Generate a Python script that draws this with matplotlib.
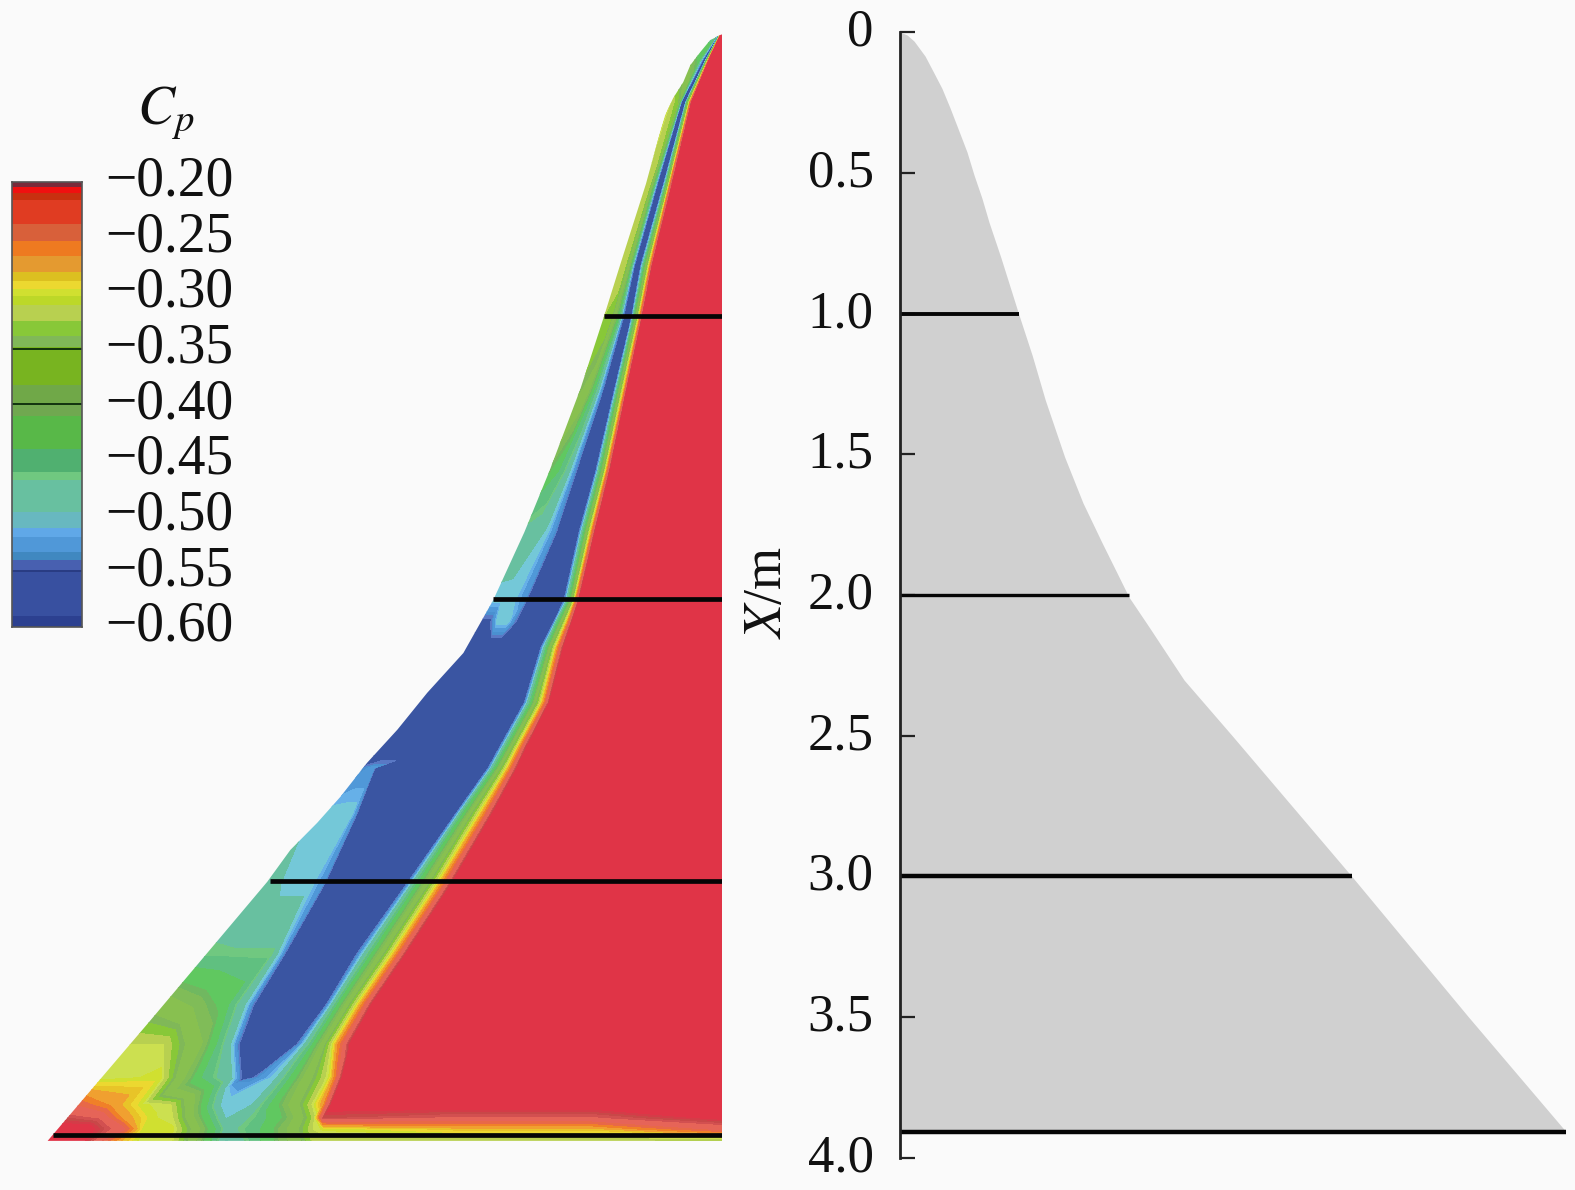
import numpy as np
import matplotlib
matplotlib.use("Agg")
import matplotlib.pyplot as plt
from matplotlib.colors import ListedColormap, BoundaryNorm
from matplotlib.patches import Polygon
from matplotlib.transforms import ScaledTranslation

plt.rcParams['font.family'] = ['Liberation Serif', 'DejaVu Serif']
plt.rcParams['mathtext.fontset'] = 'stix'

W, H = 1568, 1185
BG = '#fafafa'
INK = '#111111'

# colour legend bands, low to high
cp_edges = [-0.60, -0.59, -0.568, -0.549, -0.54, -0.533, -0.519, -0.511, -0.497, -0.468,
            -0.4606, -0.44, -0.411, -0.4008, -0.3826, -0.349, -0.339, -0.325, -0.3105, -0.303,
            -0.296, -0.289, -0.281, -0.267, -0.253, -0.238, -0.2166, -0.21, -0.205, -0.20]
cp_colors = ['#2c4090', '#3850a0', '#3850a0', '#4860b0', '#4088c0', '#5098d8', '#60a8e8', '#68b8c0',
             '#68c0a0', '#70c880', '#50b070', '#58b848', '#70a850', '#70a848', '#78b420', '#80b858',
             '#88c838', '#b8d050', '#bcd828', '#d0e030', '#ecd830', '#dcc020', '#e49a30', '#ee7a20',
             '#d8603a', '#e03c22', '#c83010', '#f01010', '#7a2a3a']
# the map itself looks a bit lighter than its legend
field_colors = ['#3a55a2', '#3a55a2', '#3a55a2', '#5a78c4', '#4a90d0', '#5098d8', '#66b0e8', '#74c8d8',
                '#68c0a0', '#70c880', '#60c080', '#60c860', '#70b860', '#80bc58', '#88c050', '#80b858',
                '#88c838', '#b8d050', '#cce050', '#d0e030', '#ecd830', '#e8c428', '#f0a030', '#f08028',
                '#e86848', '#e66458', '#d25050', '#c84848', '#d43c48']
cp_ticks = [-0.20, -0.25, -0.30, -0.35, -0.40, -0.45, -0.50, -0.55, -0.60]

# stations along the body (m)
stations = [-0.02, 0.007, 0.093, 0.242, 0.530, 0.822, 1.004, 1.256, 1.548, 1.765, 2.007, 2.085, 2.174,
            2.370, 2.530, 2.601, 2.762, 3.007, 3.260, 3.438, 3.580, 3.698, 3.794, 3.840, 3.879, 3.922]

# spanwise distance of the read points from the centre line (m), leading edge first
span = [
    [.025, .021, .020, .018, .016, .014, .012, .011, .009, .007, .005],
    [.025, .021, .020, .018, .016, .014, .012, .011, .009, .007, .005],
    [.096, .085, .078, .071, .068, .060, .057, .053, .050, .046, .039],
    [.164, .157, .149, .146, .142, .132, .125, .121, .114, .107, .096],
    [.270, .256, .242, .231, .224, .210, .199, .192, .185, .174, .160],
    [.363, .345, .327, .313, .306, .292, .278, .267, .256, .246, .231],
    [.420, .395, .370, .352, .342, .324, .313, .302, .292, .281, .267],
    [.502, .477, .452, .423, .413, .384, .370, .359, .345, .335, .317],
    [.612, .580, .548, .520, .505, .452, .434, .420, .409, .395, .377],
    [.701, .665, .626, .591, .577, .512, .491, .477, .463, .448, .431],
    [.811, .779, .744, .701, .680, .566, .544, .530, .520, .505, .488],
    [.851, .826, .797, .762, .726, .601, .584, .566, .548, .530, .512],
    [.893, .868, .833, .797, .762, .648, .623, .605, .584, .559, .541],
    [1.082, 1.028, .957, .886, .815, .708, .680, .658, .633, .609, .591],
    [1.206, 1.135, 1.028, .957, .886, .797, .769, .744, .719, .690, .673],
    [1.263, 1.249, 1.235, 1.228, 1.214, .836, .808, .783, .754, .722, .705],
    [1.395, 1.349, 1.313, 1.299, 1.285, .950, .922, .886, .847, .808, .790],
    [1.609, 1.527, 1.456, 1.413, 1.395, 1.125, 1.082, 1.036, .993, .950, .929],
    [1.847, 1.740, 1.598, 1.562, 1.537, 1.310, 1.249, 1.199, 1.157, 1.114, 1.093],
    [1.972, 1.865, 1.769, 1.687, 1.641, 1.413, 1.367, 1.320, 1.278, 1.235, 1.214],
    [2.110, 1.979, 1.847, 1.740, 1.694, 1.523, 1.456, 1.406, 1.363, 1.313, 1.292],
    [2.206, 1.989, 1.847, 1.733, 1.687, 1.651, 1.580, 1.473, 1.391, 1.367, 1.342],
    [2.256, 2.167, 2.060, 1.954, 1.883, 1.776, 1.669, 1.580, 1.473, 1.413, 1.381],
    [2.299, 2.203, 2.125, 2.025, 1.947, 1.883, 1.758, 1.651, 1.537, 1.448, 1.413],
    [2.345, 2.256, 2.125, 2.053, 1.947, 1.883, 1.758, 1.651, 1.537, 1.448, 1.413],
    [2.388, 2.256, 2.132, 2.053, 1.947, 1.883, 1.758, 1.651, 1.537, 1.448, 1.413],
]

# Cp at those points, then three more towards the centre line
cp = [
    [-.45, -.45, -.50, -.55, -.58, -.58, -.50, -.35, -.27, -.19, -.19, -.19, -.19, -.19],
    [-.45, -.45, -.50, -.55, -.58, -.58, -.50, -.35, -.27, -.19, -.19, -.19, -.19, -.19],
    [-.36, -.42, -.48, -.54, -.58, -.58, -.45, -.35, -.27, -.19, -.19, -.19, -.19, -.19],
    [-.30, -.34, -.46, -.54, -.58, -.58, -.45, -.35, -.27, -.19, -.19, -.19, -.19, -.19],
    [-.30, -.32, -.42, -.54, -.58, -.58, -.45, -.35, -.27, -.19, -.19, -.19, -.19, -.19],
    [-.30, -.32, -.40, -.54, -.58, -.58, -.45, -.35, -.27, -.19, -.19, -.19, -.19, -.19],
    [-.32, -.33, -.42, -.54, -.58, -.58, -.45, -.35, -.27, -.19, -.19, -.19, -.19, -.19],
    [-.33, -.36, -.44, -.54, -.58, -.58, -.45, -.35, -.27, -.19, -.19, -.19, -.19, -.19],
    [-.38, -.44, -.48, -.54, -.58, -.58, -.45, -.35, -.27, -.19, -.19, -.19, -.19, -.19],
    [-.47, -.48, -.50, -.54, -.58, -.58, -.45, -.35, -.27, -.19, -.19, -.19, -.19, -.19],
    [-.505, -.505, -.505, -.53, -.58, -.58, -.45, -.35, -.27, -.19, -.19, -.19, -.19, -.19],
    [-.56, -.56, -.505, -.505, -.56, -.58, -.45, -.35, -.27, -.19, -.19, -.19, -.19, -.19],
    [-.58, -.58, -.58, -.58, -.58, -.58, -.45, -.35, -.27, -.19, -.19, -.19, -.19, -.19],
    [-.58, -.58, -.58, -.58, -.58, -.58, -.45, -.35, -.27, -.19, -.19, -.19, -.19, -.19],
    [-.58, -.58, -.58, -.58, -.58, -.58, -.45, -.35, -.27, -.19, -.19, -.19, -.19, -.19],
    [-.55, -.53, -.53, -.56, -.58, -.58, -.45, -.35, -.27, -.19, -.19, -.19, -.19, -.19],
    [-.505, -.505, -.505, -.53, -.58, -.58, -.45, -.35, -.27, -.19, -.19, -.19, -.19, -.19],
    [-.48, -.505, -.505, -.53, -.58, -.58, -.45, -.35, -.27, -.19, -.19, -.19, -.19, -.19],
    [-.465, -.465, -.465, -.52, -.58, -.58, -.45, -.35, -.27, -.19, -.19, -.19, -.19, -.19],
    [-.36, -.39, -.42, -.50, -.58, -.58, -.45, -.35, -.27, -.19, -.19, -.19, -.19, -.19],
    [-.31, -.31, -.38, -.50, -.58, -.58, -.45, -.35, -.27, -.19, -.19, -.19, -.19, -.19],
    [-.31, -.30, -.44, -.50, -.575, -.54, -.50, -.37, -.30, -.25, -.19, -.19, -.19, -.19],
    [-.24, -.27, -.30, -.31, -.37, -.50, -.50, -.42, -.33, -.27, -.19, -.19, -.19, -.19],
    [-.21, -.22, -.27, -.30, -.31, -.37, -.50, -.46, -.40, -.32, -.21, -.22, -.22, -.195],
    [-.19, -.19, -.23, -.30, -.30, -.35, -.48, -.45, -.38, -.31, -.30, -.285, -.285, -.23],
    [-.19, -.20, -.28, -.31, -.31, -.36, -.50, -.45, -.38, -.32, -.32, -.32, -.32, -.33],
]

# outline of the pressure map
edge_x = [0, .004, .021, .064, .11, .17, .227, .287, .347, .53, .822, 1.004, 1.256, 1.548, 1.765, 2.005,
          2.193, 2.334, 2.465, 2.582, 2.703, 2.795, 2.891, 3.004, 3.5, 3.922]
edge_s = [0, .007, .0425, .078, .113, .138, .174, .202, .22, .27, .363, .42, .502, .612, .701, .811,
          .917, 1.045, 1.151, 1.258, 1.353, 1.435, 1.53, 1.612, 2.03, 2.39]

# black cuts on the pressure map
cut_stations = [1.0, 2.0, 3.0, 3.9]
cut_span = [0.42, 0.812, 1.603, 2.37]

# planform on the right
plan_x = [0, .01, .032, .085, .146, .20, .27, .34, .426, .508, .59, .675, .8, 1.0, 1.15, 1.307, 1.51, 1.673,
          1.815, 1.936, 2.007, 2.114, 2.302, 2.5, 3.0, 3.5, 3.907]
plan_y = [0, .025, .05, .089, .121, .149, .178, .205, .238, .263, .291, .316, .358, .421, .47, .516, .585, .65,
          .718, .778, .813, .885, 1.009, 1.18, 1.605, 2.02, 2.366]
plan_cuts = [1.0, 2.0, 3.0, 3.907]
plan_cut_y = [0.421, 0.813, 1.605, 2.366]
plan_ticks = [0, 0.5, 1.0, 1.5, 2.0, 2.5, 3.0, 3.5, 4.0]
plan_labels = ['0', '0.5', '1.0', '1.5', '2.0', '2.5', '3.0', '3.5', '4.0']


def box(x0, y0, x1, y1):
    # pixel box (top-left origin) to figure fractions
    return [x0 / W, 1 - y1 / H, (x1 - x0) / W, (y1 - y0) / H]


fig = plt.figure(figsize=(15.75, 11.9), dpi=100, facecolor=BG)

legend_cmap = ListedColormap(cp_colors)
field_cmap = ListedColormap(field_colors)
field_cmap.set_over('#e03447')
field_cmap.set_under(field_colors[0])
norm = BoundaryNorm(cp_edges, len(cp_colors))

# left: pressure map
ax = fig.add_axes(box(0, 34, 719, 1150))
ax.set_xlim(719 / 281, 0)
ax.set_ylim((1150 - 34) / 281, 0)
ax.axis('off')

span_arr = np.array(span)
inner = np.linspace(span_arr[:, -1], 0, 4).T[:, 1:]
S = np.hstack([span_arr, inner])
S[:, 0] += 0.03  # mesh runs past the outline, the clip below cuts it
X = np.repeat(np.array(stations)[:, None], S.shape[1], axis=1)
cs = ax.contourf(S, X, np.array(cp), levels=cp_edges, cmap=field_cmap, norm=norm, extend='both')
outline = Polygon(list(zip(edge_s, edge_x)) + [(0, edge_x[-1])], closed=True, transform=ax.transData)
cs.set_clip_path(outline)
for st, sp in zip(cut_stations, cut_span):
    ax.plot([0, sp], [st, st], color='#050505', lw=3.4, solid_capstyle='butt')

# colour legend
cax = fig.add_axes(box(12, 181, 82, 624))
cax.pcolormesh([0, 1], cp_edges, np.array(cp_edges[:-1])[:, None] + 1e-4, cmap=legend_cmap, norm=norm)
cax.set_ylim(-0.60, -0.20)
cax.set_xticks([])
cax.yaxis.tick_right()
cax.set_yticks(cp_ticks)
cax.set_yticklabels(['\u2212%.2f' % abs(v) for v in cp_ticks], fontsize=40, color=INK)
cax.tick_params(axis='y', length=0, pad=16.5)
up6 = ScaledTranslation(0, 6 / 100, fig.dpi_scale_trans)
for lab in cax.get_yticklabels():
    lab.set_transform(lab.get_transform() + up6)
for s in cax.spines.values():
    s.set_color('#555555')
    s.set_linewidth(1.2)
for v in [-0.35, -0.40]:
    cax.axhline(v, color='#0a2a0a', lw=1.3)
cax.axhline(-0.55, color='#283a80', lw=1.3)
fig.text(165 / W, 1 - 113 / H, r'$C_p$', fontsize=40, ha='center', va='center', color=INK)

# right: planform
rax = fig.add_axes(box(896, 32, 1565, 1153), facecolor='none')
rax.set_xlim(0, 669 / 280.25)
rax.set_ylim(4.0, 0)
rax.fill_betweenx(plan_x, 0, plan_y, color='#d0d0d0', lw=0)
for st, sp, lw in zip(plan_cuts, plan_cut_y, [2.8, 2.4, 3.2, 3.2]):
    rax.plot([0, sp], [st, st], color='#050505', lw=lw, solid_capstyle='butt')
for name in ['top', 'right', 'bottom']:
    rax.spines[name].set_visible(False)
rax.spines['left'].set_linewidth(2)
rax.spines['left'].set_color('#222222')
rax.set_xticks([])
rax.set_yticks(plan_ticks)
rax.set_yticklabels(plan_labels, fontsize=38, color=INK)
rax.tick_params(axis='y', direction='in', length=11, width=1.6, pad=19, color='#222222')
up5 = ScaledTranslation(0, 5 / 100, fig.dpi_scale_trans)
for lab in rax.get_yticklabels():
    lab.set_transform(lab.get_transform() + up5)
fig.text(764 / W, 1 - 590 / H, r'$X$/m', fontsize=39, rotation=90, ha='center', va='center', color=INK)

fig.savefig('out.png', dpi=100, facecolor=BG)
